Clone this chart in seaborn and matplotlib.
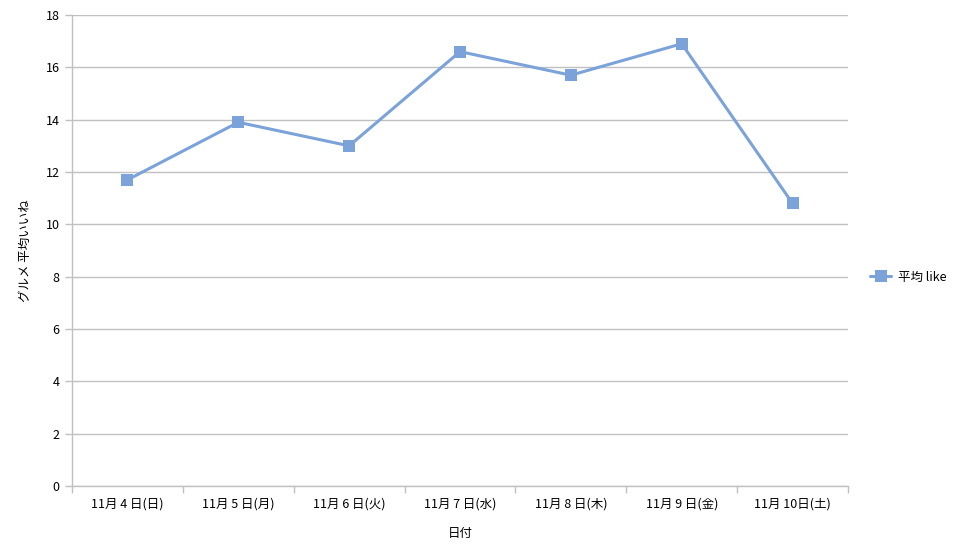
import matplotlib
matplotlib.use("Agg")
import matplotlib.pyplot as plt
import seaborn as sns
import pandas as pd
import numpy as np

categories = ["11月 4 日(日)", "11月 5 日(月)", "11月 6 日(火)", "11月 7 日(水)",
              "11月 8 日(木)", "11月 9 日(金)", "11月 10日(土)"]
values = [11.7, 13.9, 13.0, 16.6, 15.7, 16.9, 10.8]
series_name = "平均 like"
y_ticks = [0, 2, 4, 6, 8, 10, 12, 14, 16, 18]

sns.set_theme(style="white")
plt.rcParams['font.family'] = ['Noto Sans CJK JP', 'DejaVu Sans']
plt.rcParams['text.color'] = 'black'
plt.rcParams['axes.labelcolor'] = 'black'
plt.rcParams['xtick.labelcolor'] = 'black'
plt.rcParams['ytick.labelcolor'] = 'black'

df = pd.DataFrame({"日付": categories, "value": values, "series": series_name})
df["x"] = np.arange(len(categories))

fig = plt.figure(figsize=(9.56, 5.53), dpi=100)
ax = fig.add_axes([72/956, 1-486/553, (848-72)/956, (486-15)/553])

grid_c = "#c0c0c0"
line_c = "#7ba3da"

sns.lineplot(data=df, x="x", y="value", hue="series", palette=[line_c], ax=ax,
             marker="s", markersize=8, markeredgewidth=0, linewidth=2.2, zorder=3)

ax.set_xlim(-0.5, len(categories) - 0.5)
ax.set_ylim(0, 18)
ax.set_yticks(y_ticks)
ax.set_yticklabels([str(t) for t in y_ticks], fontsize=9)
ax.set_xticks(np.arange(len(categories)))
ax.set_xticklabels(categories, fontsize=9)
ax.set_xticks(np.arange(len(categories) + 1) - 0.5, minor=True)
ax.tick_params(axis="x", which="major", length=0, pad=8, labelcolor="black")
ax.tick_params(axis="x", which="minor", length=5, color=grid_c, width=1, bottom=True)
ax.tick_params(axis="y", length=5, color=grid_c, width=1, left=True, pad=4, labelcolor="black")
ax.yaxis.grid(True, color=grid_c, linewidth=1)
ax.xaxis.grid(False)
for s in ["top", "right"]:
    ax.spines[s].set_visible(False)
for s in ["left", "bottom"]:
    ax.spines[s].set_color(grid_c)
    ax.spines[s].set_linewidth(1)

ax.set_xlabel("日付", fontsize=9, labelpad=12, color="black")
ax.set_ylabel("グルメ 平均いいね", fontsize=9, labelpad=10, color="black")

handles, labels = ax.get_legend_handles_labels()
ax.legend_.remove()
fig.legend(handles, labels, loc="center left",
           bbox_to_anchor=(870/956, 1-277/553), bbox_transform=fig.transFigure,
           frameon=False, fontsize=9, handlelength=1.7, handletextpad=0.5,
           borderaxespad=0, borderpad=0, labelcolor="black")

fig.savefig("out.png", dpi=100)
